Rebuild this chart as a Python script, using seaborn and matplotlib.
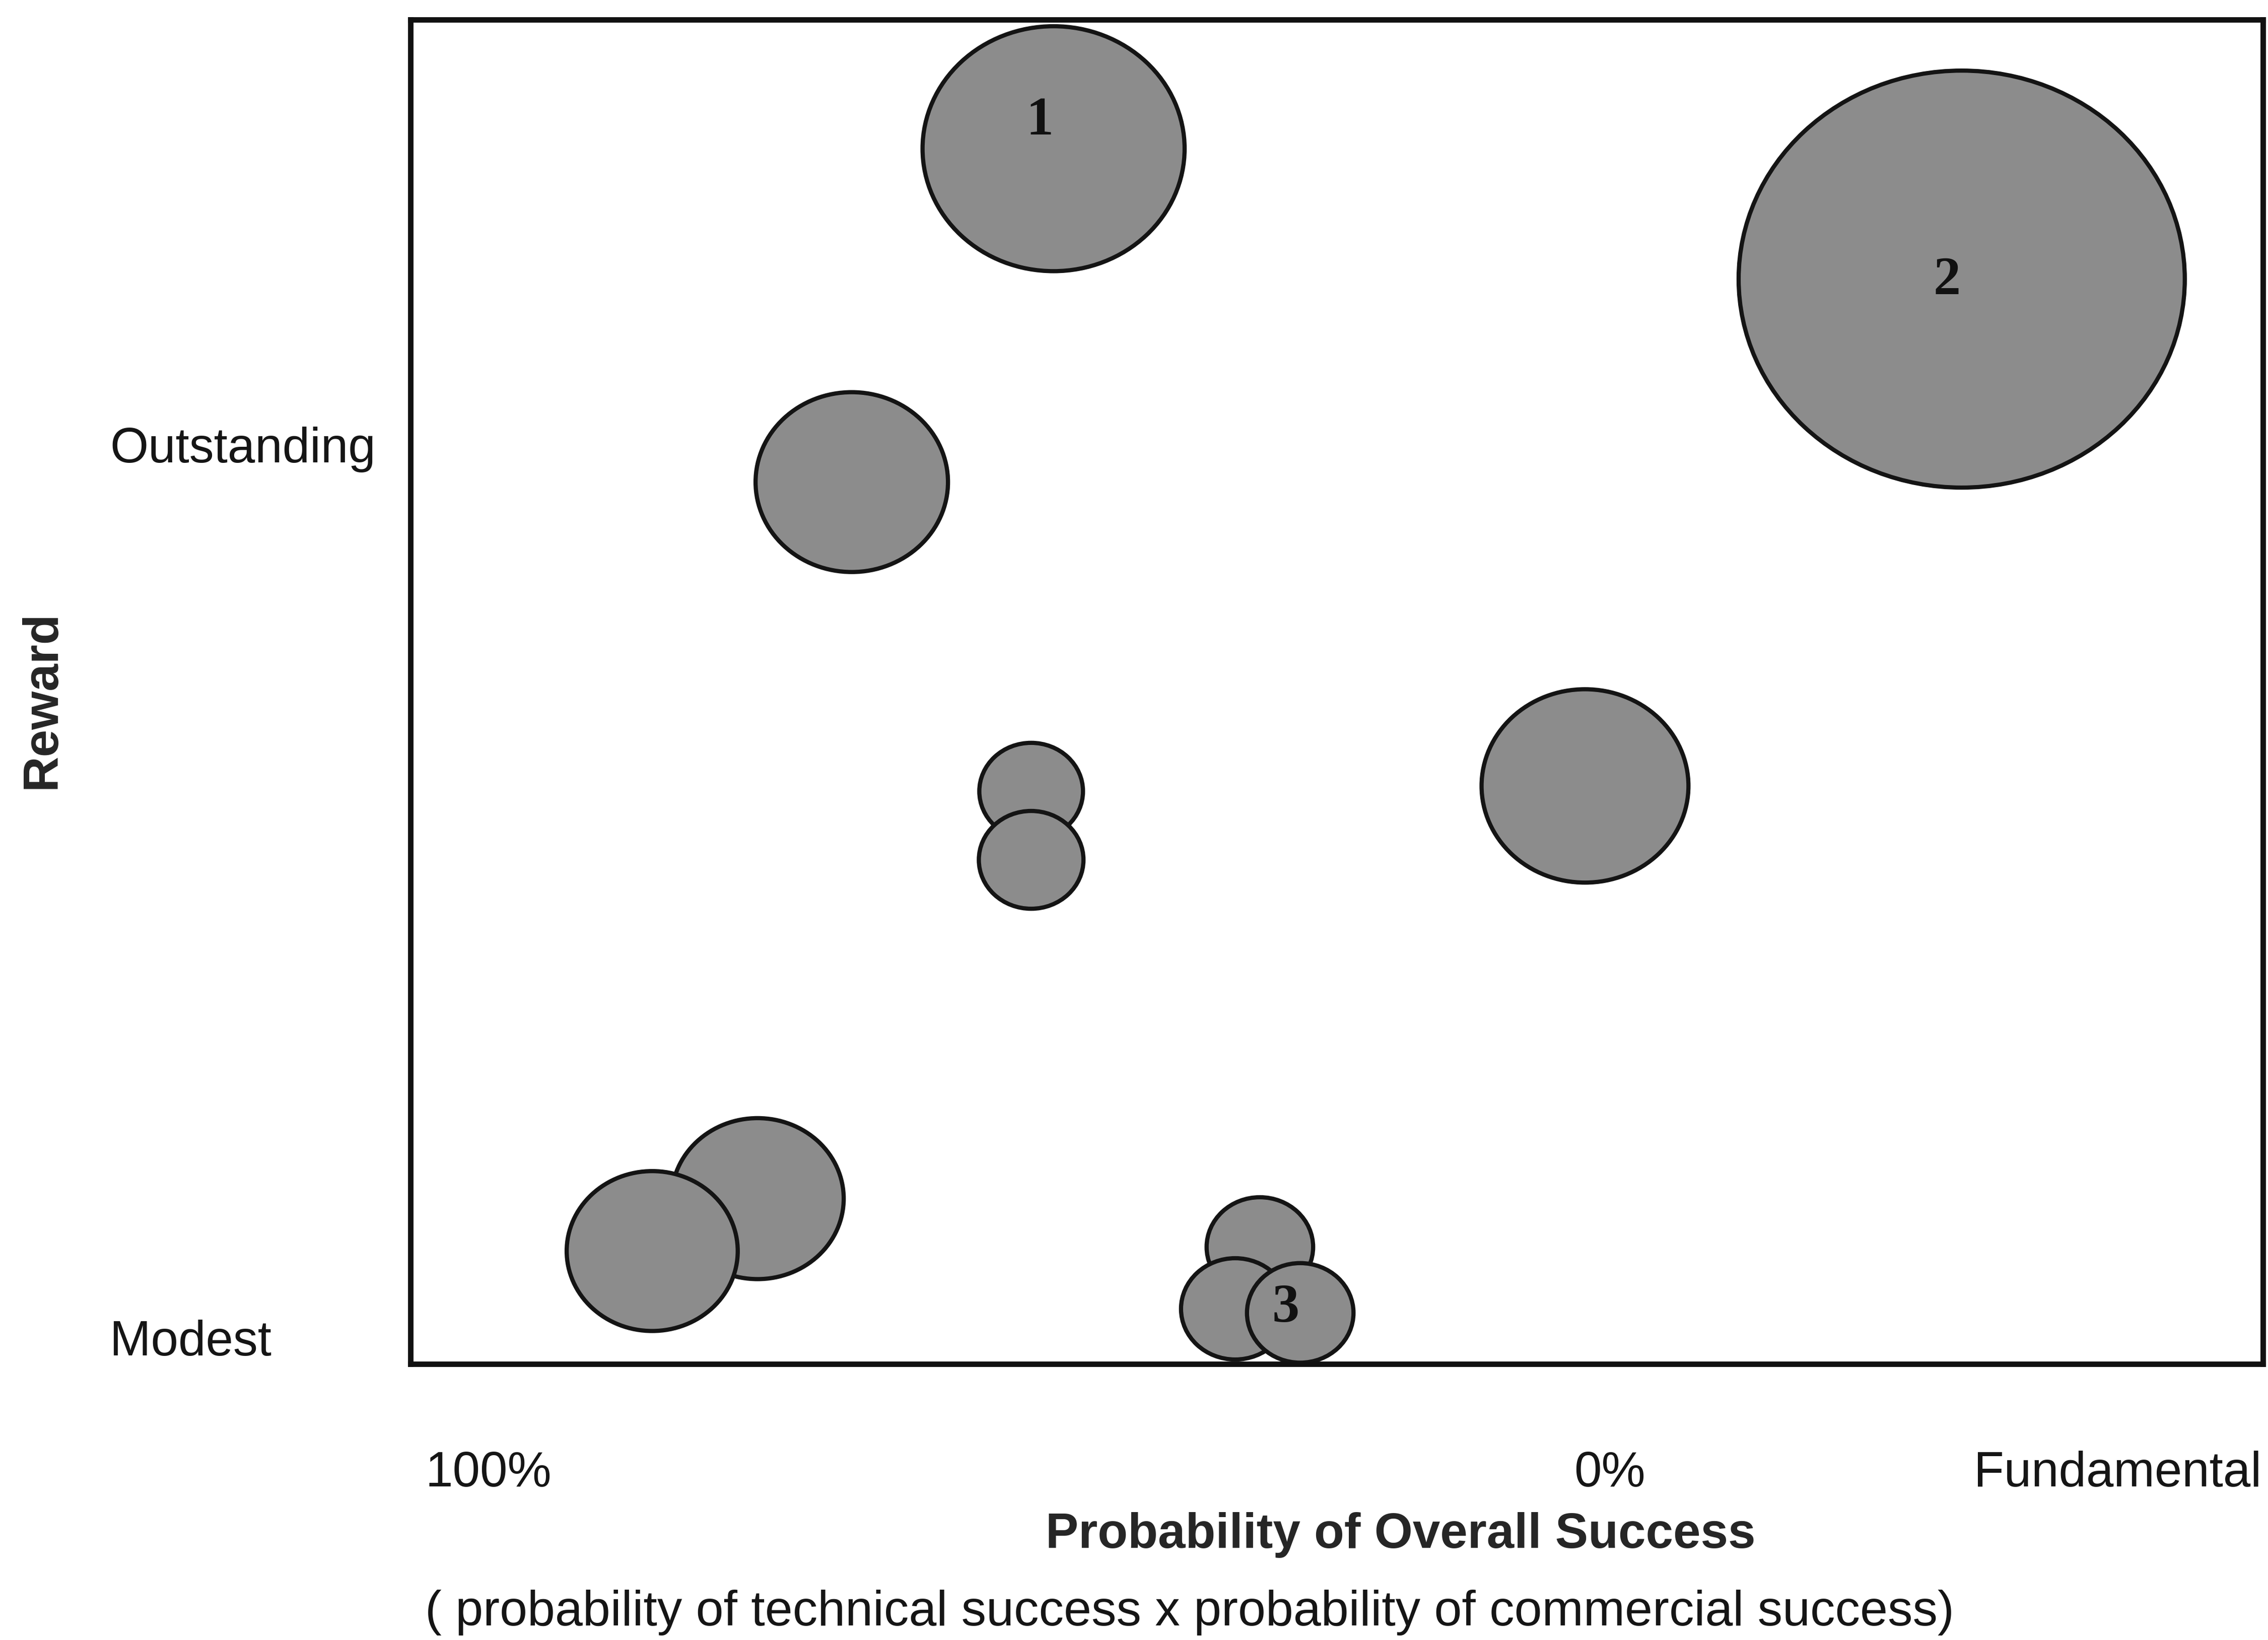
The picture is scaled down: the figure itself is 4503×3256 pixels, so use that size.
import numpy as np
import pandas as pd
import matplotlib
matplotlib.use("Agg")
import matplotlib.pyplot as plt
from matplotlib.path import Path
from matplotlib.transforms import Affine2D
import seaborn as sns

# R&D portfolio: probability of overall success (%), reward score (0-100),
# resources committed (relative units, bubble area), and the project tag shown
project_tag = ["1", "2", "", "", "", "", "", "", "", "", "3"]
success_pct = [49.6, -31.4, 67.6, 51.6, 51.6, 2.2, 76.0, 85.4, 31.2, 33.4, 27.6]
reward_score = [90.4, 80.7, 65.6, 42.6, 37.5, 43.0, 12.3, 8.4, 8.7, 4.1, 3.8]
resources = [34.5, 100.0, 18.6, 5.4, 5.5, 21.5, 14.9, 14.7, 5.7, 5.9, 5.7]

# axis tick labels
x_tick_values = [100, 0, -45.3]
x_tick_labels = ["100%", "0%", "Fundamental"]
y_tick_values = [68.4, 1.97]
y_tick_labels = ["Outstanding", "Modest"]

df = pd.DataFrame({
    "tag": project_tag,
    "success": success_pct,
    "reward": reward_score,
    "resources": resources,
})

sns.set_theme(style="white")
plt.rcParams["font.family"] = ["Liberation Sans", "DejaVu Sans"]
plt.rcParams["font.size"] = 23.5
plt.rcParams["text.color"] = "#151515"
plt.rcParams["xtick.color"] = "#151515"
plt.rcParams["ytick.color"] = "#151515"

fig = plt.figure(figsize=(4503 / 300, 3256 / 300), dpi=300, facecolor="white")
ax = fig.add_axes([815 / 4503, 1 - 2708 / 3256, 3678 / 4503, 2669 / 3256])

# slightly oval bubble outline
oval = Path(Affine2D().scale(1.07, 1.0).transform(Path.unit_circle().vertices),
            Path.unit_circle().codes)

sns.scatterplot(
    data=df, x="success", y="reward", size="resources",
    sizes=(0, 45200), size_norm=(0, 100),
    marker=oval, color="#8c8c8c", edgecolor="#141414", linewidth=2.0,
    alpha=1.0, legend=False, ax=ax, zorder=2,
)

# project tags inside the bubbles
tag_offsets = {"1": (-6.5, 13), "2": (-7, -1), "3": (-7, 2)}
for _, row in df[df["tag"] != ""].iterrows():
    ax.annotate(row["tag"], (row["success"], row["reward"]),
                xytext=tag_offsets[row["tag"]], textcoords="offset points",
                ha="center", va="center", fontsize=26, fontweight="bold",
                family=["Liberation Serif", "DejaVu Serif"], color="#111111",
                zorder=3)

ax.set_xlim(106.96, -58.27)
ax.set_ylim(0, 100)

ax.set_xticks(x_tick_values, labels=x_tick_labels)
ax.set_yticks(y_tick_values, labels=y_tick_labels)
ax.tick_params(axis="x", length=0, pad=41.3, labelsize=23.5)
ax.tick_params(axis="y", length=0, pad=143.3, labelsize=23.5)
for lab in ax.get_yticklabels():
    lab.set_horizontalalignment("left")

for side in ["left", "right", "top", "bottom"]:
    ax.spines[side].set_visible(True)
    ax.spines[side].set_color("#111111")
    ax.spines[side].set_linewidth(2.6)
ax.grid(False)
ax.set_facecolor("white")

ax.set_xlabel("Probability of Overall Success", fontsize=23.5, fontweight="bold")
ax.xaxis.set_label_coords(0.5345, -0.1102)

ax.set_ylabel("Reward", fontsize=23.5, fontweight="bold", va="center")
ax.yaxis.set_label_coords(-0.1988, 0.494)

ax.text(0.4206, -0.1679,
        "( probability of technical success x probability of commercial success)",
        transform=ax.transAxes, ha="center", va="top", fontsize=23.7)

fig.savefig("out.png", dpi=300, facecolor="white")
